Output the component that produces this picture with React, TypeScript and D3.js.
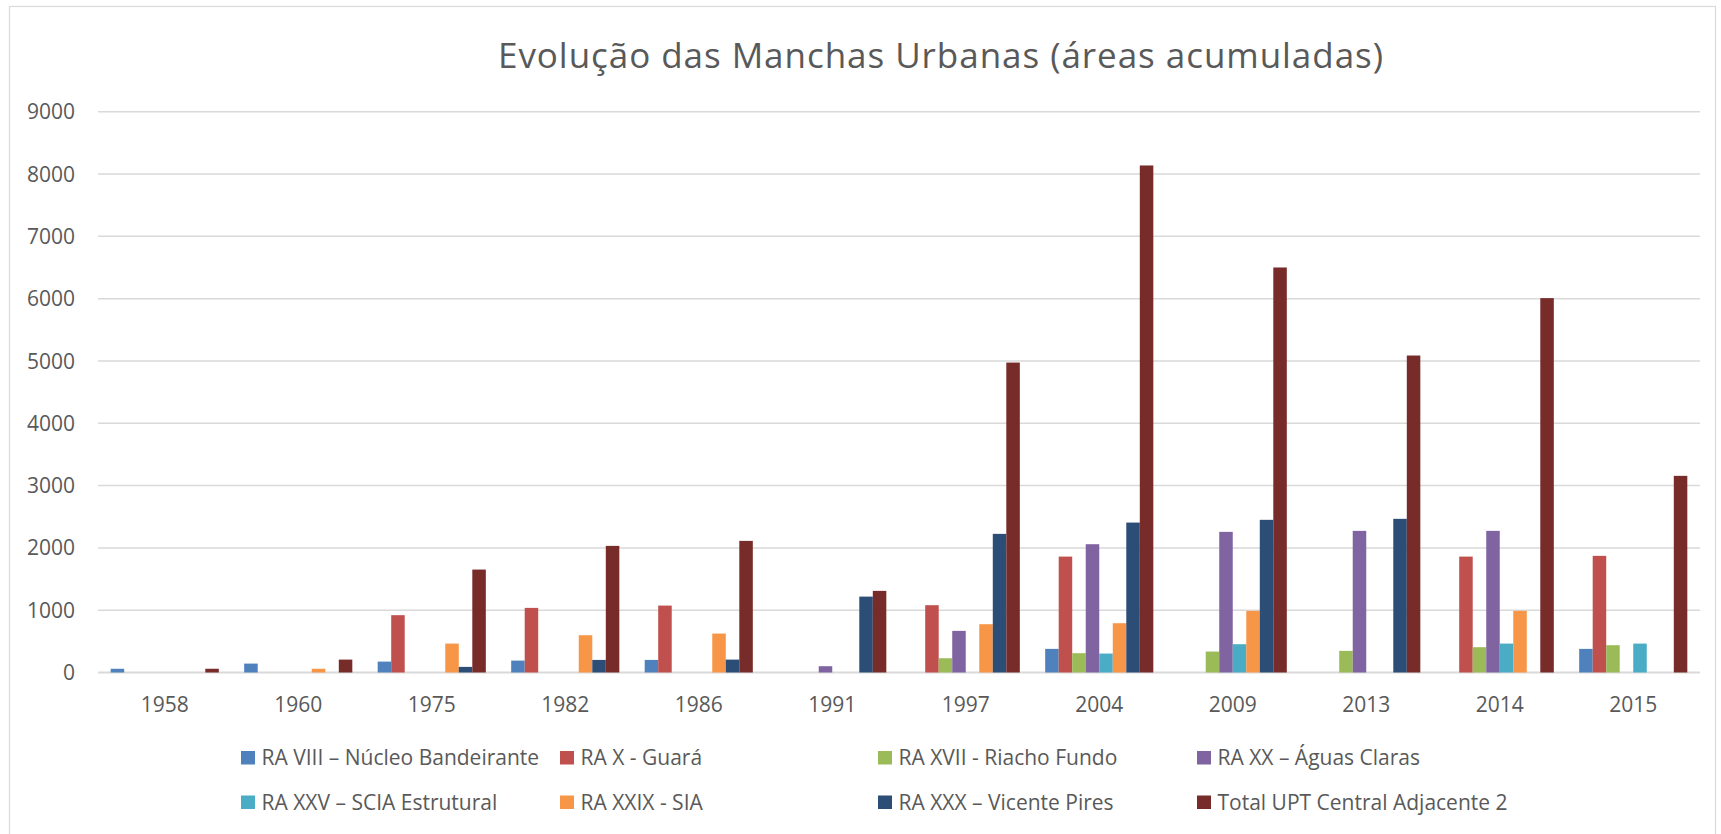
import React from "react";
import * as d3 from "d3";

const years = ["1958", "1960", "1975", "1982", "1986", "1991", "1997", "2004", "2009", "2013", "2014", "2015"];

const seriesNames = [
  "RA VIII – Núcleo Bandeirante",
  "RA X - Guará",
  "RA XVII - Riacho Fundo",
  "RA XX – Águas Claras",
  "RA XXV – SCIA Estrutural",
  "RA XXIX - SIA",
  "RA XXX – Vicente Pires",
  "Total UPT Central Adjacente 2",
];

const seriesColors = ["#4F81BD", "#C0504D", "#9BBB59", "#8064A2", "#4BACC6", "#F79646", "#2C4D75", "#772C2A"];

const raVIII = [60, 143, 175, 191, 202, 0, 0, 379, 0, 0, 0, 379];
const raX = [0, 0, 920, 1037, 1074, 0, 1080, 1860, 0, 0, 1860, 1872];
const raXVII = [0, 0, 0, 0, 0, 0, 229, 310, 336, 347, 406, 438];
const raXX = [0, 0, 0, 0, 0, 101, 668, 2059, 2257, 2273, 2273, 0];
const raXXV = [0, 0, 0, 0, 0, 0, 0, 304, 454, 0, 464, 464];
const raXXIX = [0, 60, 464, 598, 625, 0, 775, 791, 989, 0, 989, 0];
const raXXX = [0, 0, 90, 202, 207, 1218, 2225, 2406, 2450, 2466, 0, 0];
const totalUPT = [60, 207, 1652, 2032, 2112, 1310, 4974, 8137, 6500, 5087, 6008, 3156];

const seriesValues = [raVIII, raX, raXVII, raXX, raXXV, raXXIX, raXXX, totalUPT];

const yTicks = [0, 1000, 2000, 3000, 4000, 5000, 6000, 7000, 8000, 9000];

const title = "Evolução das Manchas Urbanas (áreas acumuladas)";

const W = 1721;
const H = 834;
const plotLeft = 98;
const plotRight = 1700;
const plotTop = 111.7;
const plotBottom = 672.5;
const textColor = "#595959";
const font = "'Open Sans', 'Noto Sans', sans-serif";

export default function App() {
  const x0 = d3
    .scaleBand<string>()
    .domain(years)
    .range([plotLeft, plotRight])
    .paddingInner(0.19)
    .paddingOuter(0.095);
  const x1 = d3
    .scaleBand<number>()
    .domain(d3.range(seriesNames.length))
    .range([0, x0.bandwidth()])
    .padding(0);
  const y = d3.scaleLinear().domain([0, 9000]).range([plotBottom, plotTop]);

  const legendCols = [241, 560, 878, 1197];
  const legendRows = [751, 795.5];

  return (
    <svg
      width={W}
      height={H}
      style={{ position: "absolute", left: 0, top: 0, background: "#fff" }}
      fontFamily={font}
    >
      <rect x={0} y={0} width={W} height={H} fill="#fff" />
      <rect x={9.5} y={6.5} width={1706} height={860} fill="none" stroke="#d9d9d9" strokeWidth={1.2} />
      <text
        x={498}
        y={67.5}
        fontSize={35}
        fill={textColor}
        textLength={885}
        lengthAdjust="spacing"
      >
        {title}
      </text>
      {yTicks.map((t) => (
        <g key={t}>
          <line
            x1={plotLeft}
            x2={plotRight}
            y1={y(t)}
            y2={y(t)}
            stroke="#d9d9d9"
            strokeWidth={t === 0 ? 2 : 1.5}
          />
          <text x={75} y={y(t) + 7.6} textAnchor="end" fontSize={21} fill={textColor}>
            {t}
          </text>
        </g>
      ))}
      {years.map((yr, i) => (
        <g key={yr} transform={`translate(${x0(yr)},0)`}>
          {seriesValues.map((vals, s) =>
            vals[i] > 0 ? (
              <rect
                key={s}
                x={x1(s)}
                y={y(vals[i])}
                width={x1.bandwidth()}
                height={y(0) - y(vals[i])}
                fill={seriesColors[s]}
              />
            ) : null
          )}
        </g>
      ))}
      {years.map((yr) => (
        <text
          key={"l" + yr}
          x={(x0(yr) as number) + x0.bandwidth() / 2}
          y={711.5}
          textAnchor="middle"
          fontSize={21}
          fill={textColor}
        >
          {yr}
        </text>
      ))}
      {seriesNames.map((name, s) => {
        const col = s % 4;
        const row = Math.floor(s / 4);
        const lx = legendCols[col];
        const ly = legendRows[row];
        return (
          <g key={name}>
            <rect x={lx} y={ly} width={14} height={13.5} fill={seriesColors[s]} />
            <text x={lx + 20.5} y={ly + 14} fontSize={21} fill={textColor}>
              {name}
            </text>
          </g>
        );
      })}
    </svg>
  );
}
